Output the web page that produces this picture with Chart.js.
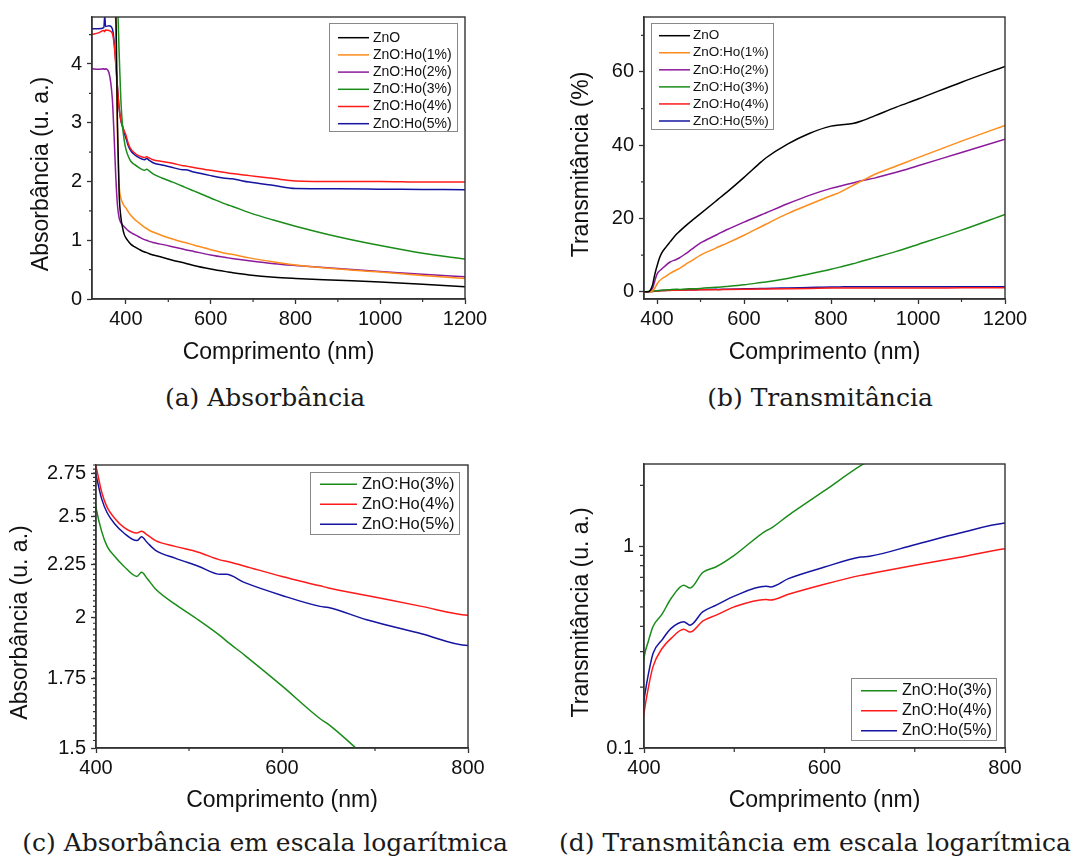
<!DOCTYPE html>
<html lang="pt">
<head>
<meta charset="utf-8">
<title>Absorbância e transmitância</title>
<script src="https://cdn.jsdelivr.net/npm/chart.js@4.4.1/dist/chart.umd.min.js"></script>
<style>
  html, body { margin: 0; background: #fff; }
  body { position: relative; width: 1078px; height: 859px; overflow: hidden; }
  canvas { position: absolute; }
  .caption {
    position: absolute;
    transform: translate(-50%, -50%);
    font-family: "DejaVu Serif", serif;
    font-size: 25px;
    line-height: 1;
    color: #1a1a1a;
    white-space: nowrap;
  }
</style>
</head>
<body>
<canvas id="absChart" width="530" height="366" style="left:0px;top:0px"></canvas>
<canvas id="transChart" width="530" height="366" style="left:540px;top:0px"></canvas>
<canvas id="absLogChart" width="530" height="374" style="left:0px;top:440px"></canvas>
<canvas id="transLogChart" width="530" height="374" style="left:540px;top:440px"></canvas>

<div class="caption" style="left:265px;top:397px">(a) Absorbância</div>
<div class="caption" style="left:820px;top:397px">(b) Transmitância</div>
<div class="caption" style="left:265px;top:842px">(c) Absorbância em escala logarítmica</div>
<div class="caption" style="left:815px;top:842px">(d) Transmitância em escala logarítmica</div>

<script>
// sample names and line colours
const sampleNames = ['ZnO', 'ZnO:Ho(1%)', 'ZnO:Ho(2%)', 'ZnO:Ho(3%)', 'ZnO:Ho(4%)', 'ZnO:Ho(5%)'];
const sampleColors = ['#000000', '#ff8c1a', '#8b1a9b', '#1a8c1a', '#ff1a1a', '#1414a0'];

// absorbance (u. a.) vs wavelength (nm)
const absWavelength = [320, 335, 348, 350, 352, 360, 368, 372, 376, 380, 384, 388, 392, 396,
  400, 406, 412, 420, 430, 444, 449, 455, 464, 485, 510, 534, 540, 560,
  600, 641, 650, 691, 750, 800, 900, 1000, 1100, 1200];
const absZnO = [5.0, 5.0, 5.0, 5.0, 5.0, 5.0, 5.0, 5.0, 4.9, 3.0, 1.8, 1.4, 1.22, 1.1,
  1.04, 0.98, 0.93, 0.89, 0.85, 0.8, 0.79, 0.77, 0.75, 0.71, 0.66, 0.62, 0.61, 0.57,
  0.51, 0.46, 0.45, 0.41, 0.37, 0.35, 0.32, 0.29, 0.25, 0.21];
const absHo1 = [5.0, 5.0, 5.0, 5.0, 5.0, 5.0, 5.0, 5.0, 4.7, 2.8, 1.95, 1.72, 1.64, 1.58,
  1.55, 1.48, 1.42, 1.36, 1.3, 1.22, 1.2, 1.17, 1.14, 1.08, 1.02, 0.97, 0.96, 0.92,
  0.84, 0.77, 0.76, 0.7, 0.63, 0.58, 0.51, 0.46, 0.4, 0.35];
const absHo2 = [3.92, 3.91, 3.92, 3.91, 3.92, 3.85, 3.4, 2.8, 2.1, 1.6, 1.38, 1.3, 1.26, 1.23,
  1.2, 1.16, 1.13, 1.1, 1.06, 1.01, 1.0, 0.98, 0.96, 0.93, 0.89, 0.85, 0.84, 0.81,
  0.75, 0.7, 0.69, 0.65, 0.6, 0.57, 0.52, 0.47, 0.42, 0.38];
const absHo3 = [5.0, 5.0, 5.0, 5.0, 5.0, 5.0, 5.0, 5.0, 5.0, 5.0, 4.2, 3.4, 2.95, 2.7,
  2.55, 2.42, 2.34, 2.29, 2.24, 2.19, 2.21, 2.18, 2.13, 2.06, 1.99, 1.92, 1.9, 1.84,
  1.72, 1.6, 1.58, 1.47, 1.34, 1.24, 1.06, 0.91, 0.78, 0.68];
const absHo4 = [4.5, 4.53, 4.57, 4.55, 4.58, 4.57, 4.52, 4.35, 4.0, 3.6, 3.25, 3.05, 2.95, 2.86,
  2.79, 2.64, 2.55, 2.49, 2.44, 2.41, 2.42, 2.4, 2.37, 2.34, 2.31, 2.27, 2.265, 2.24,
  2.19, 2.145, 2.135, 2.1, 2.05, 2.01, 2.0, 2.0, 1.99, 1.99];
const absHo5 = [4.6, 4.6, 4.62, 4.82, 4.64, 4.65, 4.6, 4.4, 4.05, 3.62, 3.25, 3.04, 2.93, 2.83,
  2.74, 2.6, 2.52, 2.46, 2.41, 2.37, 2.39, 2.36, 2.32, 2.28, 2.24, 2.2, 2.2, 2.16,
  2.1, 2.05, 2.045, 1.99, 1.93, 1.88, 1.875, 1.87, 1.865, 1.86];

// transmittance (%) vs wavelength (nm)
const transWavelength = [370, 380, 385, 390, 395, 400, 405, 410, 420, 430, 444, 451, 465, 480,
  500, 535, 540, 560, 600, 640, 650, 700, 750, 800, 820, 850, 870, 900, 950, 1000, 1100, 1200];
const transZnO = [0, 0, 0.5, 2.0, 4.8, 7.0, 9.0, 10.4, 12.1, 13.6, 15.6, 16.4, 17.9, 19.4,
  21.3, 24.7, 25.2, 27.1, 31.2, 35.5, 36.5, 40.3, 43.2, 45.2, 45.5, 45.9, 46.6, 48.0, 50.4, 52.6, 57.2, 61.5];
const transHo1 = [0, 0, 0, 0.3, 1.0, 2.1, 2.9, 3.4, 4.2, 5.0, 5.9, 6.3, 7.4, 8.5,
  10.0, 11.9, 12.2, 13.2, 15.4, 17.8, 18.4, 21.3, 23.8, 26.2, 27.1, 29.0, 30.2, 32.0, 34.3, 36.6, 41.1, 45.4];
const transHo2 = [0, 0, 0.2, 1.0, 3.0, 4.8, 5.6, 6.1, 7.2, 8.1, 8.8, 9.2, 10.3, 11.6,
  13.3, 15.4, 15.7, 16.9, 19.0, 21.0, 21.5, 24.0, 26.3, 28.2, 28.8, 29.7, 30.3, 31.0, 32.6, 34.4, 38.0, 41.6];
const transHo3 = [0, 0.02, 0.05, 0.1, 0.18, 0.28, 0.34, 0.40, 0.46, 0.55, 0.64, 0.62, 0.74, 0.79,
  0.90, 1.19, 1.22, 1.42, 1.88, 2.5, 2.65, 3.6, 4.8, 6.1, 6.7, 7.6, 8.3, 9.3, 11.0, 12.9, 16.8, 21.1];
const transHo4 = [0, 0.01, 0.03, 0.06, 0.1, 0.149, 0.201, 0.253, 0.311, 0.349, 0.387, 0.375, 0.425, 0.455,
  0.50, 0.544, 0.54, 0.577, 0.647, 0.716, 0.73, 0.803, 0.88, 0.97, 0.98, 0.99, 1.0, 1.01, 1.02, 1.03, 1.04, 1.05];
const transHo5 = [0, 0.01, 0.04, 0.08, 0.12, 0.173, 0.234, 0.294, 0.343, 0.391, 0.422, 0.406, 0.472, 0.51,
  0.565, 0.632, 0.628, 0.69, 0.787, 0.883, 0.89, 1.016, 1.16, 1.30, 1.31, 1.32, 1.32, 1.33, 1.33, 1.34, 1.35, 1.36];

// tick labels
const wideXTicks = [400, 600, 800, 1000, 1200];
const wideXMinor = [500, 700, 900, 1100];
const zoomXTicks = [400, 600, 800];
const zoomXMinor = [500, 700];
const absYTicks = [0, 1, 2, 3, 4];
const absYMinor = [0.5, 1.5, 2.5, 3.5, 4.5];
const transYTicks = [0, 20, 40, 60];
const transYMinor = [10, 30, 50, 70];
const absLogYTicks = [1.5, 1.75, 2, 2.25, 2.5, 2.75];
const transLogYTicks = [0.1, 1];
const transLogYMinor = [0.2, 0.3, 0.4, 0.5, 0.6, 0.7, 0.8, 0.9, 2];

const absLogYMinor = [];
for (let v = 1.525; v < 2.8; v += 0.025) absLogYMinor.push(+v.toFixed(3));

const frameColor = '#333';
const textColor = '#111';
Chart.defaults.font.family = '"Liberation Sans", Arial, sans-serif';
Chart.defaults.color = textColor;

// box around the plot area, drawn over the curves
const plotFrame = {
  id: 'plotFrame',
  afterDatasetsDraw(chart) {
    const {ctx, chartArea: a} = chart;
    ctx.save();
    ctx.strokeStyle = frameColor;
    ctx.lineWidth = 1.4;
    ctx.strokeRect(a.left, a.top, a.right - a.left, a.bottom - a.top);
    ctx.restore();
  }
};

// short outward ticks between the labelled ones
const minorTicks = {
  id: 'minorTicks',
  afterDraw(chart, args, opts) {
    const {ctx, chartArea: a, scales} = chart;
    ctx.save();
    ctx.strokeStyle = frameColor;
    ctx.lineWidth = 1.2;
    ctx.beginPath();
    (opts.x || []).forEach(v => {
      const px = scales.x.getPixelForValue(v);
      ctx.moveTo(px, a.bottom);
      ctx.lineTo(px, a.bottom + opts.length);
    });
    (opts.y || []).forEach(v => {
      const py = scales.y.getPixelForValue(v);
      ctx.moveTo(a.left, py);
      ctx.lineTo(a.left - opts.length, py);
    });
    ctx.stroke();
    ctx.restore();
  }
};

// legend inside the plot, with a thin grey frame
const framedLegend = {
  id: 'framedLegend',
  afterDraw(chart, args, o) {
    const ctx = chart.ctx;
    ctx.save();
    ctx.fillStyle = '#fff';
    ctx.fillRect(o.left, o.top, o.width, o.height);
    ctx.strokeStyle = '#888';
    ctx.lineWidth = 1;
    ctx.strokeRect(o.left + 0.5, o.top + 0.5, o.width, o.height);
    ctx.font = o.fontSize + 'px "Liberation Sans", Arial, sans-serif';
    ctx.textBaseline = 'middle';
    chart.data.datasets.forEach((ds, i) => {
      const y = o.rowY + i * o.rowStep;
      ctx.strokeStyle = ds.borderColor;
      ctx.lineWidth = 1.5;
      ctx.beginPath();
      ctx.moveTo(o.lineX, y);
      ctx.lineTo(o.lineX + o.lineLength, y);
      ctx.stroke();
      ctx.fillStyle = textColor;
      ctx.fillText(ds.label, o.textX, y);
    });
    ctx.restore();
  }
};

function xAxis(min, max, ticks, height) {
  return {
    type: 'linear', min, max,
    afterBuildTicks: s => { s.ticks = ticks.map(v => ({value: v})); },
    afterFit: s => { s.height = height; },
    ticks: { font: {size: 20}, color: textColor, padding: 3, autoSkip: false, maxRotation: 0,
      callback: v => String(v) },
    grid: { drawOnChartArea: false, tickLength: 5, tickColor: frameColor, tickWidth: 1.3 },
    border: { color: frameColor, width: 1.4 },
    title: { display: true, text: 'Comprimento (nm)', font: {size: 23}, color: textColor, padding: 0 }
  };
}

function yAxis(type, min, max, ticks, width, title) {
  return {
    type, min, max,
    afterBuildTicks: s => { s.ticks = ticks.map(v => ({value: v})); },
    afterFit: s => { s.width = width; },
    ticks: { font: {size: 20}, color: textColor, padding: 5, autoSkip: false,
      callback: v => String(v) },
    grid: { drawOnChartArea: false, tickLength: 5, tickColor: frameColor, tickWidth: 1.3 },
    border: { color: frameColor, width: 1.4 },
    title: { display: true, text: title, font: {size: 23}, color: textColor, padding: 0 }
  };
}

function makeChart(id, c) {
  return new Chart(document.getElementById(id), {
    type: 'line',
    data: {
      datasets: c.series.map((ys, i) => ({
        label: c.labels[i],
        data: c.xs.map((x, j) => ({x, y: ys[j]})),
        borderColor: c.colors[i],
        borderWidth: 1.5,
        pointRadius: 0,
        cubicInterpolationMode: 'monotone'
      }))
    },
    options: {
      responsive: false,
      animation: false,
      events: [],
      layout: { padding: c.padding },
      scales: { x: c.x, y: c.y },
      plugins: {
        legend: { display: false },
        tooltip: { enabled: false },
        minorTicks: c.minor,
        framedLegend: c.legend
      }
    },
    plugins: [plotFrame, minorTicks, framedLegend]
  });
}

const nbsp = '\u00a0';

makeChart('absChart', {
  xs: absWavelength,
  series: [absZnO, absHo1, absHo2, absHo3, absHo4, absHo5],
  labels: sampleNames,
  colors: sampleColors,
  padding: {left: 28, top: 15, right: 65, bottom: 0},
  x: xAxis(320, 1200, wideXTicks, 67),
  y: yAxis('linear', 0, 4.8, absYTicks, 64, 'Absorbância (u. a.)' + nbsp.repeat(5)),
  minor: {x: wideXMinor, y: absYMinor, length: 3},
  legend: {left: 329, top: 23, width: 128, height: 108, rowY: 37.7, rowStep: 17.2,
    lineX: 338, lineLength: 31, textX: 373, fontSize: 14}
});

makeChart('transChart', {
  xs: transWavelength,
  series: [transZnO, transHo1, transHo2, transHo3, transHo4, transHo5],
  labels: sampleNames,
  colors: sampleColors,
  padding: {left: 28, top: 15, right: 65, bottom: 0},
  x: xAxis(370, 1200, wideXTicks, 67),
  y: yAxis('linear', -2, 75, transYTicks, 76, 'Transmitância (%)' + nbsp.repeat(2)),
  minor: {x: wideXMinor, y: transYMinor, length: 3},
  legend: {left: 111, top: 23, width: 122, height: 106, rowY: 35.7, rowStep: 17.06,
    lineX: 119, lineLength: 31, textX: 153, fontSize: 13.5}
});

makeChart('absLogChart', {
  xs: absWavelength,
  series: [absHo3, absHo4, absHo5],
  labels: sampleNames.slice(3),
  colors: sampleColors.slice(3),
  padding: {left: 7, top: 25, right: 62, bottom: 0},
  x: xAxis(400, 800, zoomXTicks, 66),
  y: yAxis('logarithmic', 1.5, 2.8, absLogYTicks, 89, 'Absorbância (u. a.)' + nbsp.repeat(5)),
  minor: {x: zoomXMinor, y: absLogYMinor, length: 3},
  legend: {left: 310, top: 32, width: 149, height: 62, rowY: 44.3, rowStep: 20,
    lineX: 320, lineLength: 37, textX: 362, fontSize: 16.5}
});

makeChart('transLogChart', {
  xs: transWavelength,
  series: [transHo3, transHo4, transHo5],
  labels: sampleNames.slice(3),
  colors: sampleColors.slice(3),
  padding: {left: 28, top: 24, right: 65, bottom: 0},
  x: xAxis(400, 800, zoomXTicks, 66),
  y: yAxis('logarithmic', 0.1, 2.55, transLogYTicks, 76, 'Transmitância (u. a.)' + nbsp.repeat(2)),
  minor: {x: zoomXMinor, y: transLogYMinor, length: 4},
  legend: {left: 311, top: 238, width: 145, height: 62, rowY: 250.7, rowStep: 20,
    lineX: 321, lineLength: 36, textX: 362, fontSize: 16}
});
</script>
</body>
</html>
